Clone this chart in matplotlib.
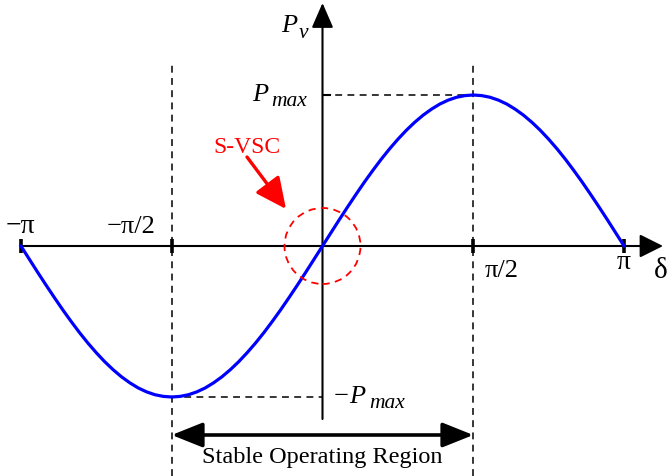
import numpy as np
import matplotlib.pyplot as plt
from matplotlib.patches import Ellipse

plt.rcParams['font.family'] = ['Liberation Serif', 'DejaVu Serif']

# Power angle curve (5 degree steps, P in units of Pmax)
delta_deg = list(range(-180, 185, 5))
p_v = [0.0, -0.087, -0.174, -0.259, -0.342, -0.423, -0.5, -0.574, -0.643,
       -0.707, -0.766, -0.819, -0.866, -0.906, -0.94, -0.966, -0.985, -0.996,
       -1.0, -0.996, -0.985, -0.966, -0.94, -0.906, -0.866, -0.819, -0.766,
       -0.707, -0.643, -0.574, -0.5, -0.423, -0.342, -0.259, -0.174, -0.087,
       0.0, 0.087, 0.174, 0.259, 0.342, 0.423, 0.5, 0.574, 0.643,
       0.707, 0.766, 0.819, 0.866, 0.906, 0.94, 0.966, 0.985, 0.996,
       1.0, 0.996, 0.985, 0.966, 0.94, 0.906, 0.866, 0.819, 0.766,
       0.707, 0.643, 0.574, 0.5, 0.423, 0.342, 0.259, 0.174, 0.087, 0.0]
tick_pos = [-np.pi, -np.pi / 2, np.pi / 2, np.pi]
tick_labels = ["\u2212\u03c0", "\u2212\u03c0/2", "\u03c0/2", "\u03c0"]
p_max = 1.0

delta = np.deg2rad(delta_deg)

# pixel helpers (origin at 322.5, 247 px; 96 px per rad, 151 px per Pmax)
sx, sy, ox, oy = 96.0, 151.0, 322.5, 247.0
def px(p):
    return (p - ox) / sx
def py(p):
    return (oy - p) / sy

fig = plt.figure(figsize=(6.7, 4.77), dpi=100)
ax = fig.add_axes([0, 0, 1, 1])
ax.set_xlim(px(0), px(670))
ax.set_ylim(py(477), py(0))
ax.axis('off')

# axes with arrows
ax.annotate("", xy=(px(663), 0), xytext=(-np.pi, 0),
            arrowprops=dict(arrowstyle='-|>,head_length=0.8,head_width=0.4',
                            mutation_scale=18, lw=1.5, color='k',
                            shrinkA=0, shrinkB=0))
ax.annotate("", xy=(0, py(4)), xytext=(0, py(420)),
            arrowprops=dict(arrowstyle='-|>,head_length=0.85,head_width=0.37',
                            mutation_scale=18, lw=1.5, color='k',
                            shrinkA=0, shrinkB=0))

# thick ticks on delta axis
for t in tick_pos:
    ax.plot([t, t], [7 / sy, -7 / sy], color='k', lw=2.6, solid_capstyle='butt')
ax.plot([0, 7 / sx], [p_max, p_max], color='k', lw=1.5)

# dashed guides
dash = (0, (4.5, 3.5))
for t in [-np.pi / 2, np.pi / 2]:
    ax.plot([t, t], [py(477), py(66)], color='k', lw=1.1, ls=dash)
ax.plot([0, np.pi / 2], [p_max, p_max], color='k', lw=1.1, ls=dash)
ax.plot([-np.pi / 2, 0], [-p_max, -p_max], color='k', lw=1.1, ls=dash)

# curve
ax.plot(delta, p_v, color='#0000ff', lw=2.3, zorder=5)

# tick labels
fs = 19
ax.text(tick_pos[0], py(233), tick_labels[0], ha='center', va='baseline', fontsize=20)
ax.text(px(131), py(233), tick_labels[1], ha='center', va='baseline', fontsize=fs)
ax.text(px(485), py(277), tick_labels[2], ha='left', va='baseline', fontsize=fs)
ax.text(tick_pos[3], py(269), tick_labels[3], ha='center', va='baseline', fontsize=20)
ax.text(px(661), py(278), "\u03b4", ha='center', va='baseline', fontsize=21)

# P labels (italic with subscript)
def p_label(x_p, x_sub, base, sub, text):
    ax.text(px(x_p), py(base), "P", ha='left', va='baseline', fontsize=19,
            fontstyle='italic')
    ax.text(px(x_sub), py(base + sub), text, ha='left', va='baseline',
            fontsize=15.5, fontstyle='italic')

p_label(281, 299, 32, 6, "v")
p_label(252, 271, 101, 5, "max")
ax.text(px(334), py(403), "\u2212", ha='left', va='baseline', fontsize=19)
p_label(349, 369, 403, 5, "max")

# S-VSC marker
ax.add_patch(Ellipse((0, 0), 2 * 38 / sx, 2 * 38 / sy, fill=False,
                     edgecolor='#ff0000', lw=1.3, ls=(0, (4, 3)), zorder=6))
ax.text(px(246.5), py(153), "S-VSC", color='#ff0000', ha='center', va='baseline',
        fontsize=17)
ax.annotate("", xy=(px(286), py(210)), xytext=(px(247), py(158)),
            arrowprops=dict(arrowstyle='-|>,head_length=1.05,head_width=0.5',
                            mutation_scale=18, lw=2.4, color='#ff0000',
                            shrinkA=0, shrinkB=0))

# stable operating region
ax.annotate("", xy=(np.pi / 2, py(436)), xytext=(-np.pi / 2, py(436)),
            arrowprops=dict(arrowstyle='<|-|>,head_length=1.05,head_width=0.42',
                            mutation_scale=18, lw=2.6, color='k',
                            shrinkA=0, shrinkB=0))
ax.text(px(322), py(463), "Stable Operating Region", ha='center', va='baseline',
        fontsize=17.5)

fig.savefig("out.png", dpi=100)
